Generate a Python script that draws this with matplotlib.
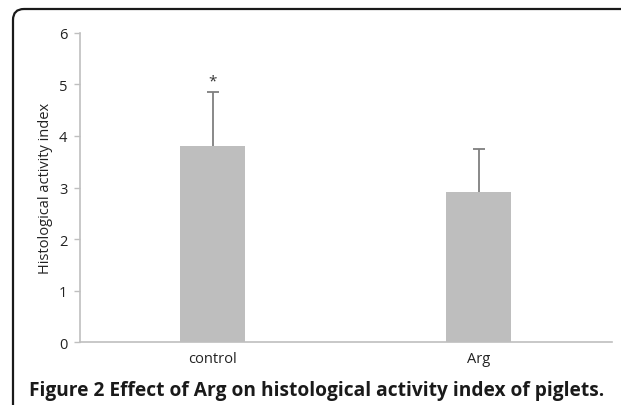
import numpy as np
import matplotlib
matplotlib.use('Agg')
import matplotlib.pyplot as plt
from matplotlib.patches import FancyBboxPatch

plt.rcParams['font.family'] = ['Open Sans', 'DejaVu Sans']

groups = ['control', 'Arg']
means = [3.81, 2.92]
errs = [1.04, 0.83]
marks = ['*', '']
yticks = [0, 1, 2, 3, 4, 5, 6]

fig = plt.figure(figsize=(6.21, 4.06), dpi=100)

# rounded frame, open to the right and bottom (cropped)
frame = FancyBboxPatch((13, -40), 700, 436, boxstyle='round,pad=0,rounding_size=11',
                       transform=None, fill=False, edgecolor='#1a1a1a', linewidth=1.6)
fig.patches.append(frame)

ax = fig.add_axes([0.1288, 0.154, 0.856, 0.763])
x = np.arange(len(groups))
ax.bar(x, means, width=0.245, color='#bebebe', zorder=2)
eb = ax.errorbar(x, means, yerr=[np.zeros(len(errs)), errs], fmt='none',
                 ecolor='#7f7f7f', elinewidth=1.3, capsize=4.5, capthick=1.3, zorder=3)
eb[1][0].set_visible(False)  # upper error only
for xi, m, e, s in zip(x, means, errs, marks):
    if s:
        ax.text(xi, m + e + 0.22, s, ha='center', va='center', fontsize=11, color='#333333')

ax.set_xlim(-0.5, 1.5)
ax.set_ylim(0, 6)
ax.set_yticks(yticks)
ax.set_xticks(x)
ax.set_xticklabels(groups)
ax.spines['top'].set_visible(False)
ax.spines['right'].set_visible(False)
for side in ['left', 'bottom']:
    ax.spines[side].set_color('#bfbfbf')
    ax.spines[side].set_linewidth(1.2)
ax.tick_params(axis='y', direction='out', length=4, width=1.0, color='#bfbfbf',
               labelsize=10.5, labelcolor='#222222', pad=5)
ax.tick_params(axis='x', length=0, labelsize=10.5, labelcolor='#222222', pad=6)
ax.set_ylabel('Histological activity index', fontsize=10.5, color='#222222', labelpad=4)

fig.text(29 / 621, 1 - 391 / 406, 'Figure 2 Effect of Arg on histological activity index of piglets.',
         fontsize=13.8, fontweight='bold', color='#1a1a1a', va='center', ha='left')

fig.savefig('out.png', dpi=100)
